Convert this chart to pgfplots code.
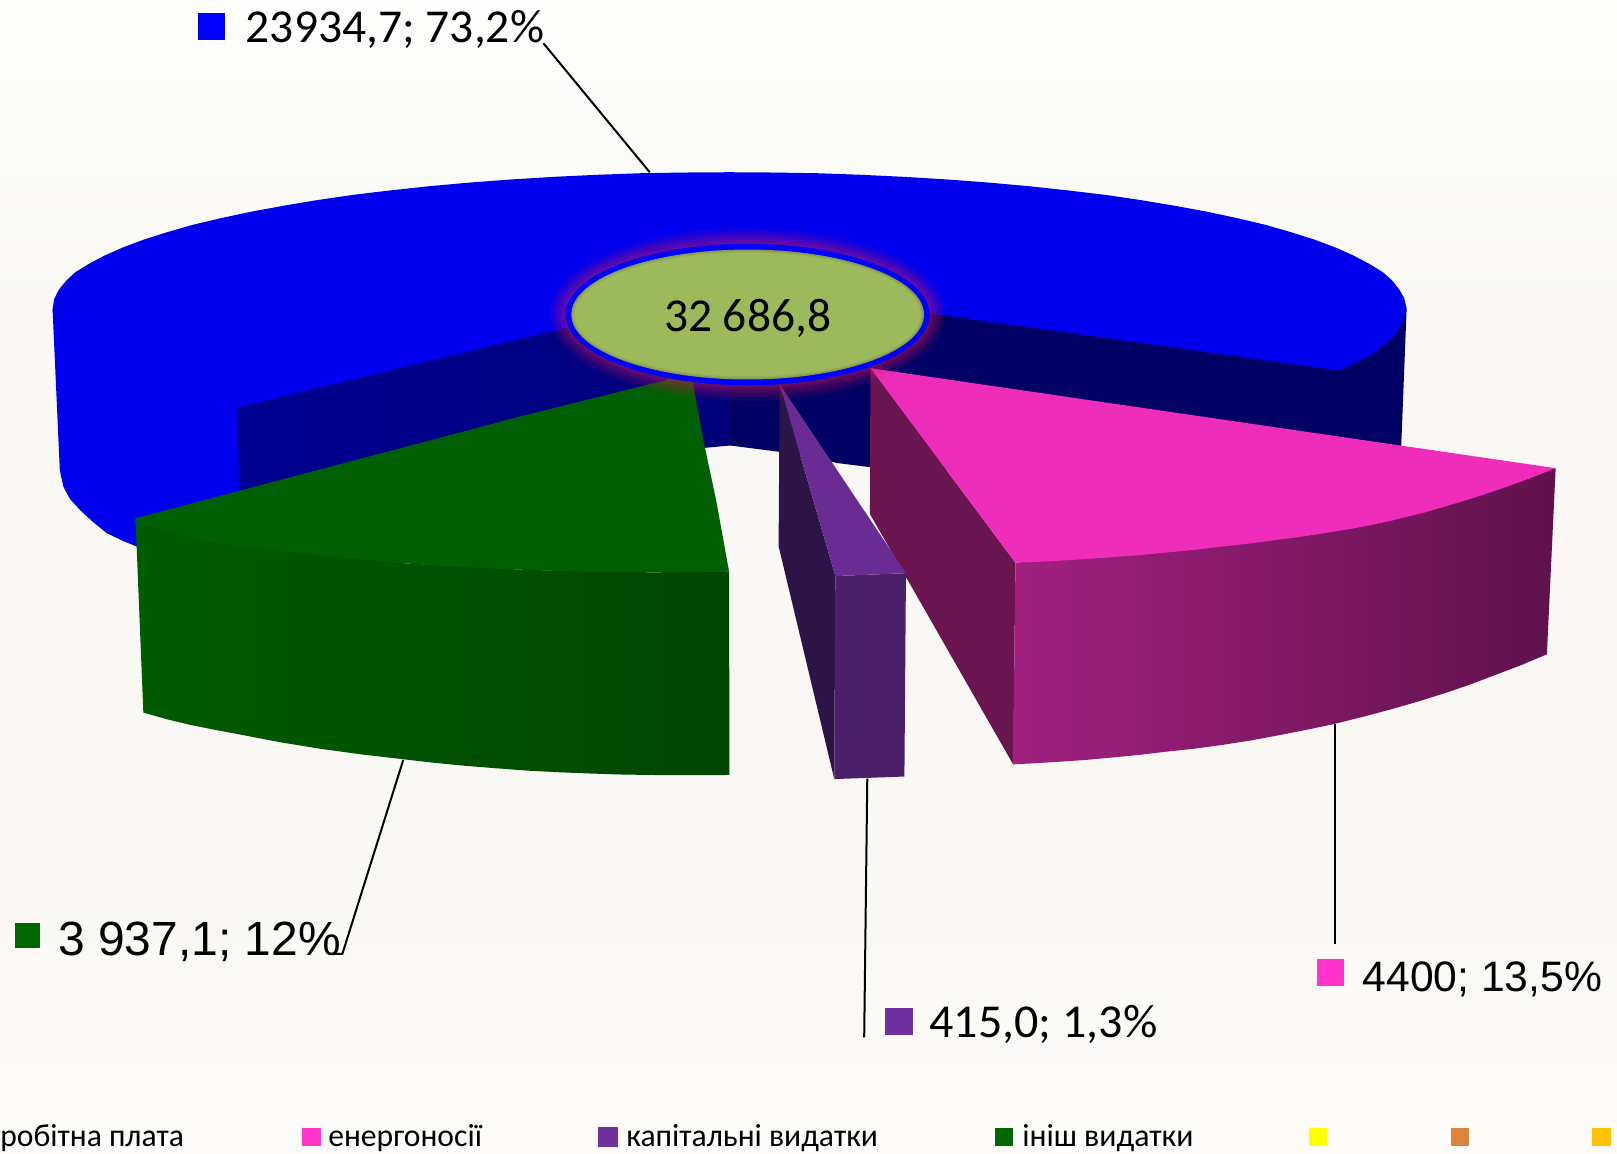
\documentclass[border=0pt]{standalone}
\usepackage{pgfplots}
\pgfplotsset{compat=1.18}
\usepackage{fontspec}
\setmainfont{Carlito}
\newfontfamily\arialf{Liberation Sans}
\newdimen\un \un=0.515625pt
\newcommand{\fw}[2]{\resizebox{#1\un}{\height}{#2}}
\definecolor{bgT}{RGB}{254,254,252}
\definecolor{bgM}{RGB}{249,248,245}
\definecolor{bgB}{RGB}{253,252,250}
\definecolor{blueT}{RGB}{0,0,238}
\definecolor{navyA}{RGB}{0,0,145}
\definecolor{navyB}{RGB}{0,0,122}
\definecolor{navyC}{RGB}{0,0,100}
\definecolor{greenT}{RGB}{0,95,0}
\definecolor{greenA}{RGB}{0,92,0}
\definecolor{greenB}{RGB}{0,70,0}
\definecolor{pinkT}{RGB}{238,46,187}
\definecolor{pinkA}{RGB}{162,32,128}
\definecolor{pinkB}{RGB}{96,18,76}
\definecolor{pinkS}{RGB}{106,20,80}
\definecolor{purT}{RGB}{106,44,146}
\definecolor{purF}{RGB}{74,32,106}
\definecolor{purS}{RGB}{44,20,70}
\definecolor{halo}{RGB}{205,25,95}
\begin{document}
\begin{tikzpicture}
\path[use as bounding box] (0,0) rectangle (808.5pt,576.98pt);
\begin{axis}[at={(0,0)},anchor=south west,scale only axis,width=808.5pt,height=576.98pt,
  xmin=0,xmax=1568,ymin=0,ymax=1119,y dir=reverse,hide axis,clip=true]
% background
\addplot[draw=none,fill=bgM] coordinates {(0,0)(1568,0)(1568,1119)(0,1119)} -- cycle;
\addplot[draw=none,top color=bgT,bottom color=bgM] coordinates {(0,0)(1568,0)(1568,300)(0,300)} -- cycle;
\addplot[draw=none,top color=bgM,bottom color=bgB] coordinates {(0,880)(1568,880)(1568,1119)(0,1119)} -- cycle;
% blue outer wall, left
\addplot[draw=none,fill=blueT] coordinates {(51,300)(58,456)(61.5,472)(68,484)(77.6,494.6)(90,506)(103.5,517)(118,524)(132.5,530)(232,530)(232,476)(231,370)(139,335)(60,300)} -- cycle;
% navy cut faces
\addplot[draw=none,left color=navyA,right color=navyB] coordinates {(230,385)(540,310)(708,280)(708,432)(232,476)} -- cycle;
\addplot[draw=none,fill=navyC] coordinates {(708,270)(1290,340)(1332,335)(1354,315)(1364,299)(1358.8,431)(1358.8,470)(843.6,453)(811.6,449)(778,441)(708,432)} -- cycle;
% blue top: 23934,7
\addplot[draw=none,fill=blueT] coordinates {(1298.4,359.4)(1316,351)(1332,342.6)(1344,333)(1354,323)(1360,312)(1364,299)(1361.6,289)(1357,281)(1350,272)(1341,264)(1328,256)(1313,248)(1295,240)(1275,232.5)(1252,225.2)(1227,218)(1200,211.6)(1171,205.4)(1139,199.5)(1106,194)(1072,189)(1035,184.6)(997,180.5)(958,177)(918,174)(877,171.5)(835,169.5)(793,168)(750,167.3)(707,167)(664,167.3)(621,168)(579,169.5)(537,171.5)(496,174)(456,177)(417,180.5)(379,184.6)(342,189)(308,194)(275,199.5)(243,205.4)(214,211.6)(187,218)(162,225.2)(139,232.5)(119,240)(101,248)(86,256)(73,264)(64,272.4)(57,281)(52.5,290)(51,300)(52.5,309)(57,317)(64,325)(73,333)(86,341)(101,349)(119,356.5)(139,364)(163,373)(187,381)(230,395)(540,320)(725,279)} -- cycle;
% green: 3937,1
\addplot[draw=none,left color=greenA,right color=greenB] coordinates {(131.4,502.6)(139,691)(162,697.5)(185,703)(210,708)(235,712.7)(272,719.8)(310,726)(351,731.6)(391.5,736.3)(421,739.7)(450,742.5)(481,745)(512,747.3)(541,748.8)(570,750)(600,751)(631,751.5)(669,751.7)(707.3,751.5)(707,554.4)(631,555)(512,552.7)(393.4,546.3)(191.6,523)} -- cycle;
\addplot[draw=none,fill=greenT] coordinates {(131.4,502.6)(145,508.5)(160,514)(175,519)(191.6,523)(216,527)(240,530.5)(267,533.7)(294.5,536.6)(320,539.4)(345,542)(369,544.3)(393.4,546.3)(421,548.3)(450,550)(481,551.5)(512,552.7)(541,553.7)(570,554.5)(600,554.9)(631,555)(668,554.9)(707,554.4)(694.4,485)(682,426.7)(672,371.6)(660,340)(646.5,368.5)(504,404)} -- cycle;
% pink: 4400
\addplot[draw=none,fill=pinkS] coordinates {(844,357)(843.6,498.5)(982.4,741.2)(984.7,545.7)} -- cycle;
\addplot[draw=none,left color=pinkA,right color=pinkB] coordinates {(984.7,545.7)(982.4,741.2)(1006,740)(1030,738.5)(1054,736.8)(1077,734.7)(1104,732.1)(1130,729)(1158,726)(1185,722.4)(1213,718)(1240,713)(1267,707.7)(1294,702)(1322,695)(1350,687.5)(1375,680.3)(1400,672.5)(1425,664)(1450,654.5)(1475,645)(1500,634.5)(1508.5,454)(1475,460)(1436,475)(1400,485)(1365,495)(1293,510)(1185,525)(1077,535)} -- cycle;
\addplot[draw=none,fill=pinkT] coordinates {(844,357)(984.7,545.7)(1007,544.8)(1030,543.5)(1054,542)(1077,540.4)(1104,538.4)(1130,535.9)(1158,533.2)(1185,530)(1213,526.9)(1240,523.3)(1267,519.7)(1293,515.6)(1312,512.5)(1330,509)(1348,505.2)(1365,501)(1383,496.5)(1400,491.5)(1418,486.2)(1436,480.5)(1456,473.8)(1475,467)(1492,460.5)(1508.5,454)} -- cycle;
% purple: 415,0
\addplot[draw=none,fill=purS] coordinates {(756,372.5)(755,529.6)(809,755.5)(810,558.6)} -- cycle;
\addplot[draw=none,fill=purF] coordinates {(810,558.6)(878.5,555.8)(877,753)(809,755.5)} -- cycle;
\addplot[draw=none,fill=purT] coordinates {(756,372.5)(810,558.6)(878.5,555.8)} -- cycle;
% centre ellipse
\fill[halo,opacity=.08] (axis cs:725,305) ellipse [x radius=192,y radius=84];
\fill[halo,opacity=.10] (axis cs:725,305) ellipse [x radius=189,y radius=81];
\fill[halo,opacity=.11] (axis cs:725,305) ellipse [x radius=186,y radius=78];
\fill[halo,opacity=.12] (axis cs:725,305) ellipse [x radius=183,y radius=75];
\fill[halo,opacity=.13] (axis cs:725,305) ellipse [x radius=180,y radius=72.5];
\fill[halo,opacity=.14] (axis cs:725,305) ellipse [x radius=178,y radius=70.5];
\fill[blue] (axis cs:725,305) ellipse [x radius=176.5,y radius=68.6];
\fill[fill={rgb,255:red,134;green,155;blue,78}] (axis cs:725,305) ellipse [x radius=171,y radius=63];
\fill[fill={rgb,255:red,148;green,172;blue,86}] (axis cs:725,305) ellipse [x radius=169.5,y radius=61.5];
\fill[fill={rgb,255:red,156;green,185;blue,92}] (axis cs:725,305) ellipse [x radius=168,y radius=60];
% leaders
\addplot[black,line width=1pt] coordinates {(527,42)(630,167)};
\addplot[black,line width=1pt] coordinates {(322,925)(332,925)(391,737)};
\addplot[black,line width=1pt] coordinates {(838,1006)(841,755)};
\addplot[black,line width=1pt] coordinates {(1295,915)(1295,702)};
% label squares
\addplot[draw=none,fill=blue] coordinates {(192,12.5)(218,12.5)(218,39)(192,39)} -- cycle;
\addplot[draw=none,fill={rgb,255:red,0;green,102;blue,0}] coordinates {(15,895)(39,895)(39,919)(15,919)} -- cycle;
\addplot[draw=none,fill={rgb,255:red,255;green,51;blue,204}] coordinates {(1277,930)(1303,930)(1303,956)(1277,956)} -- cycle;
\addplot[draw=none,fill={rgb,255:red,112;green,48;blue,160}] coordinates {(858,977)(885,977)(885,1004)(858,1004)} -- cycle;
% labels
\node[anchor=base west,inner sep=0pt,font=\fontsize{23.6pt}{28pt}\selectfont] at (axis cs:238,41.4) {\fw{289}{23934,7; 73,2\%}};
\node[anchor=base west,inner sep=0pt,font=\fontsize{24pt}{28pt}\selectfont\arialf] at (axis cs:56,927) {\fw{274}{3 937,1; 12\%}};
\node[anchor=base west,inner sep=0pt,font=\fontsize{21.3pt}{26pt}\selectfont\arialf] at (axis cs:1321,961) {\fw{232}{4400; 13,5\%}};
\node[anchor=base west,inner sep=0pt,font=\fontsize{23.6pt}{28pt}\selectfont] at (axis cs:901,1006) {\fw{221}{415,0; 1,3\%}};
\node[anchor=base west,inner sep=0pt,font=\fontsize{23.6pt}{28pt}\selectfont] at (axis cs:643.5,321) {\fw{162}{32 686,8}};
% legend
\addplot[draw=none,fill={rgb,255:red,255;green,51;blue,204}] coordinates {(293,1093.5)(311,1093.5)(311,1111)(293,1111)} -- cycle;
\addplot[draw=none,fill={rgb,255:red,112;green,48;blue,160}] coordinates {(580,1092.5)(599,1092.5)(599,1112)(580,1112)} -- cycle;
\addplot[draw=none,fill={rgb,255:red,0;green,102;blue,0}] coordinates {(965,1093.5)(982,1093.5)(982,1111)(965,1111)} -- cycle;
\addplot[draw=none,fill={rgb,255:red,255;green,255;blue,0}] coordinates {(1269,1093.5)(1287,1093.5)(1287,1111)(1269,1111)} -- cycle;
\addplot[draw=none,fill={rgb,255:red,221;green,132;blue,60}] coordinates {(1407,1093.5)(1424,1093.5)(1424,1111)(1407,1111)} -- cycle;
\addplot[draw=none,fill={rgb,255:red,255;green,192;blue,0}] coordinates {(1544,1093.5)(1562,1093.5)(1562,1111)(1544,1111)} -- cycle;
\node[anchor=base west,inner sep=0pt,font=\fontsize{16pt}{18pt}\selectfont] at (axis cs:0,1112) {\fw{178}{робітна плата}};
\node[anchor=base west,inner sep=0pt,font=\fontsize{16pt}{18pt}\selectfont] at (axis cs:318,1112) {\fw{149}{енергоносії}};
\node[anchor=base west,inner sep=0pt,font=\fontsize{16pt}{18pt}\selectfont] at (axis cs:607,1112) {\fw{244}{капітальні видатки}};
\node[anchor=base west,inner sep=0pt,font=\fontsize{16pt}{18pt}\selectfont] at (axis cs:991,1112) {\fw{166}{ініш видатки}};
\end{axis}
\end{tikzpicture}
\end{document}
